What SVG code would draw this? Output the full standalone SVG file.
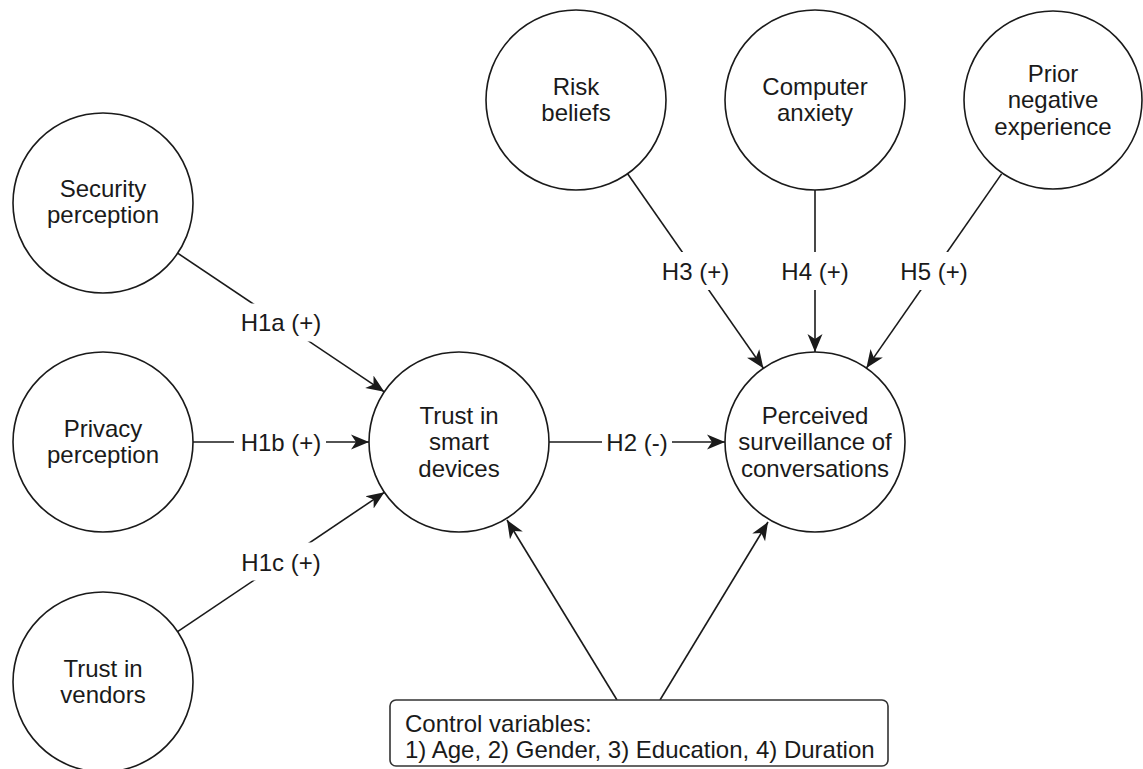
<svg xmlns="http://www.w3.org/2000/svg" width="1143" height="769" viewBox="0 0 1143 769">
<style>
  .node { fill: #ffffff; stroke: #1a1a1a; stroke-width: 1.6; }
  .t { font-family: "Liberation Sans", Arial, sans-serif; font-size: 24px; fill: #1a1a1a; text-anchor: middle; }
  .ts { font-family: "Liberation Sans", Arial, sans-serif; font-size: 24px; fill: #1a1a1a; text-anchor: start; }
  .edge { fill: none; stroke: #1a1a1a; stroke-width: 1.6; }
  .arrow { marker-end: url(#arr); }
  .lblbg { fill: #ffffff; stroke: none; }
</style>
<defs>
  <marker id="arr" viewBox="0 0 18 16" refX="18" refY="8" markerWidth="18" markerHeight="16" markerUnits="userSpaceOnUse" orient="auto">
    <path d="M0,0.5 L18,8 L0,15.5 L5,8 Z" fill="#1a1a1a"/>
  </marker>
</defs>
<rect x="0" y="0" width="1143" height="769" fill="#ffffff"/>

<g id="connectors">
  <line class="edge arrow" x1="177.7" y1="253.2" x2="384.3" y2="391.8"/>
  <line class="edge arrow" x1="193" y1="442" x2="369" y2="442"/>
  <line class="edge arrow" x1="177.6" y1="631.7" x2="384.4" y2="492.3"/>
  <line class="edge arrow" x1="549" y1="442" x2="725" y2="442"/>
  <line class="edge arrow" x1="627.6" y1="173.8" x2="763.4" y2="368.2"/>
  <line class="edge arrow" x1="815" y1="190" x2="815" y2="352"/>
  <line class="edge arrow" x1="1001.6" y1="173.9" x2="866.4" y2="368.1"/>
  <line class="edge arrow" x1="617" y1="700" x2="507" y2="520"/>
  <line class="edge arrow" x1="660" y1="700" x2="768" y2="522"/>

  <rect class="lblbg" x="241" y="303.5" width="80" height="38"/>
  <text class="t" x="281" y="331">H1a (+)</text>
  <rect class="lblbg" x="234" y="430" width="92" height="24"/>
  <text class="t" x="281" y="451">H1b (+)</text>
  <rect class="lblbg" x="241" y="542.5" width="80" height="38"/>
  <text class="t" x="281" y="570.5">H1c (+)</text>
  <rect class="lblbg" x="602" y="430" width="70" height="24"/>
  <text class="t" x="637" y="451">H2 (-)</text>
  <rect class="lblbg" x="661" y="252" width="69" height="38"/>
  <text class="t" x="695.5" y="280">H3 (+)</text>
  <rect class="lblbg" x="780" y="252" width="70" height="38"/>
  <text class="t" x="815" y="280">H4 (+)</text>
  <rect class="lblbg" x="899" y="252" width="70" height="38"/>
  <text class="t" x="934" y="280">H5 (+)</text>
</g>

<g id="security">
  <circle class="node" cx="103" cy="203" r="90"/>
  <text class="t" x="103" y="197">Security</text>
  <text class="t" x="103" y="223">perception</text>
</g>
<g id="privacy">
  <circle class="node" cx="103" cy="442" r="90"/>
  <text class="t" x="103" y="437">Privacy</text>
  <text class="t" x="103" y="463">perception</text>
</g>
<g id="vendors">
  <circle class="node" cx="103" cy="682" r="90"/>
  <text class="t" x="103" y="677">Trust in</text>
  <text class="t" x="103" y="703">vendors</text>
</g>
<g id="trust">
  <circle class="node" cx="459" cy="442" r="90"/>
  <text class="t" x="459" y="424">Trust in</text>
  <text class="t" x="459" y="450">smart</text>
  <text class="t" x="459" y="477">devices</text>
</g>
<g id="surveillance">
  <circle class="node" cx="815" cy="442" r="90"/>
  <text class="t" x="815" y="424">Perceived</text>
  <text class="t" x="815" y="450">surveillance of</text>
  <text class="t" x="815" y="477">conversations</text>
</g>
<g id="risk">
  <circle class="node" cx="576" cy="100" r="90"/>
  <text class="t" x="576" y="95">Risk</text>
  <text class="t" x="576" y="121">beliefs</text>
</g>
<g id="anxiety">
  <circle class="node" cx="815" cy="100" r="90"/>
  <text class="t" x="815" y="95">Computer</text>
  <text class="t" x="815" y="121">anxiety</text>
</g>
<g id="prior">
  <circle class="node" cx="1053" cy="100" r="89"/>
  <text class="t" x="1053" y="82">Prior</text>
  <text class="t" x="1053" y="108">negative</text>
  <text class="t" x="1053" y="135">experience</text>
</g>
<g id="controls">
  <rect x="390" y="700" width="498" height="66" rx="6" ry="6" fill="#ffffff" stroke="#333333" stroke-width="1.6"/>
  <text class="ts" x="405" y="732">Control variables:</text>
  <text class="ts" x="405" y="758">1) Age, 2) Gender, 3) Education, 4) Duration</text>
</g>
</svg>
